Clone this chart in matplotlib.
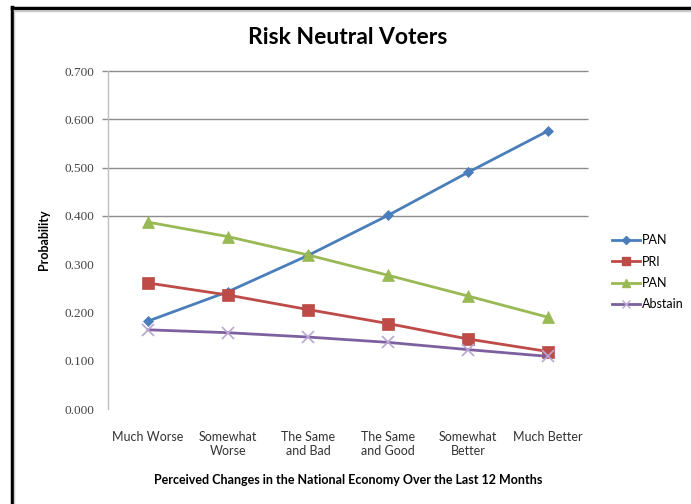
import matplotlib
matplotlib.use("Agg")
import matplotlib.pyplot as plt
from matplotlib.lines import Line2D
import numpy as np

categories = ["Much Worse", "Somewhat\nWorse", "The Same\nand Bad",
              "The Same\nand Good", "Somewhat\nBetter", "Much Better"]
pan_a = [0.182, 0.243, 0.318, 0.401, 0.490, 0.576]
pri = [0.261, 0.236, 0.206, 0.177, 0.145, 0.119]
pan_b = [0.387, 0.357, 0.319, 0.277, 0.234, 0.190]
abstain = [0.164, 0.158, 0.149, 0.138, 0.123, 0.109]
yticks = [0.0, 0.1, 0.2, 0.3, 0.4, 0.5, 0.6, 0.7]
grid_vals = [0.4, 0.5, 0.6, 0.7]

plt.rcParams["font.family"] = ["Lato", "DejaVu Sans"]

W, H = 691, 504
fig = plt.figure(figsize=(W / 100, H / 100), dpi=100)
ax = fig.add_axes([108 / W, 1 - 409 / H, 480 / W, 338 / H])

x = np.arange(len(categories))
series = [
    ("PAN", pan_a, "#4a7ebb", "D", 5, "#4a7ebb"),
    ("PRI", pri, "#be4b48", "s", 8, "#be4b48"),
    ("PAN", pan_b, "#98b954", "^", 8, "#98b954"),
    ("Abstain", abstain, "#7d60a0", "x", 8, "#b9a6d2"),
]
for label, vals, col, mk, ms, mcol in series:
    ax.plot(x, vals, color=col, lw=2, marker=mk, ms=ms, mfc=mcol, mec=mcol,
            mew=1.2 if mk == "x" else 0.5, label=label, zorder=3)

ax.set_xlim(-0.5, 5.5)
ax.set_ylim(0, 0.7)
ax.hlines(grid_vals, -0.57, 5.5, color="#8c8c8c", lw=1, clip_on=False, zorder=1)

for s in ["top", "right", "bottom"]:
    ax.spines[s].set_visible(False)
ax.spines["left"].set_color("#bfbfbf")
ax.spines["left"].set_linewidth(1)

ax.set_yticks(yticks)
ax.set_yticklabels([f"{v:.3f}" for v in yticks], fontsize=9.5,
                   family=["Liberation Serif"], color="#444444")
ax.tick_params(axis="y", length=0, pad=10)
ax.set_xticks(x)
ax.set_xticklabels(categories, fontsize=9, color="#333333", linespacing=1.2)
ax.tick_params(axis="x", length=0, pad=16)

ax.set_ylabel("Probability", fontsize=9, fontweight="bold", labelpad=10)
ax.set_xlabel("Perceived Changes in the National Economy Over the Last 12 Months",
              fontsize=9, fontweight="bold", labelpad=12)
fig.text(348 / W, 1 - 38 / H, "Risk Neutral Voters", fontsize=16.5, fontweight="bold",
         ha="center", va="center")

handles = [Line2D([0], [0], color=c, lw=2, marker=m, ms=ms * 0.75, mfc=mc, mec=mc)
           for _, _, c, m, ms, mc in series]
fig.legend(handles, [s[0] for s in series], loc="upper left",
           bbox_to_anchor=(606 / W, 1 - 228 / H), frameon=False, fontsize=9,
           handlelength=2.2, handletextpad=0.2, labelspacing=0.75, borderpad=0)

# outer frame
fig.add_artist(Line2D([11.5 / W, 11.5 / W], [0, 1 - 7 / H], color="black", lw=2.5,
                      transform=fig.transFigure))
fig.add_artist(Line2D([11.5 / W, 1], [1 - 8 / H, 1 - 8 / H], color="black", lw=2.5,
                      transform=fig.transFigure))
fig.add_artist(Line2D([14 / W, 14 / W], [0, 1 - 10 / H], color="#c8c8c8", lw=1,
                      transform=fig.transFigure))
fig.add_artist(Line2D([14 / W, 1], [1 - 10.5 / H, 1 - 10.5 / H], color="#c8c8c8", lw=1,
                      transform=fig.transFigure))

fig.savefig("out.png", dpi=100)
